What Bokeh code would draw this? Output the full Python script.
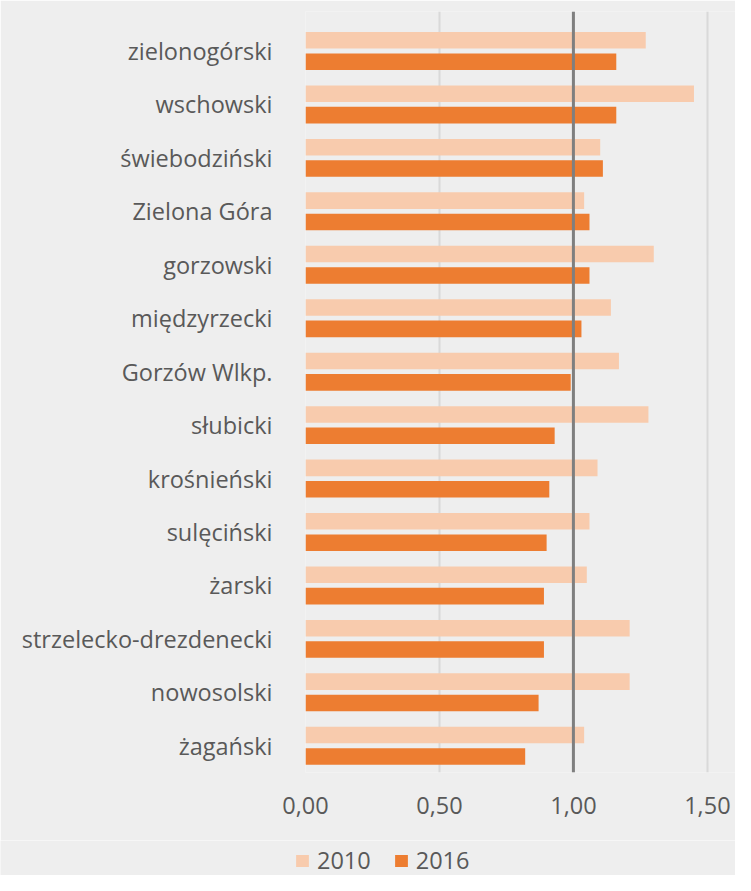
from bokeh.plotting import figure
from bokeh.models import (ColumnDataSource, Range1d, FixedTicker, Span, Legend, LegendItem)
from bokeh.transform import dodge
from bokeh.embed import file_html
from bokeh.resources import INLINE

# ---- data ----
categories = ["zielonogórski", "wschowski", "świebodziński", "Zielona Góra", "gorzowski",
              "międzyrzecki", "Gorzów Wlkp.", "słubicki", "krośnieński", "sulęciński",
              "żarski", "strzelecko-drezdenecki", "nowosolski", "żagański"]
values_2010 = [1.27, 1.45, 1.10, 1.04, 1.30, 1.14, 1.17, 1.28, 1.09, 1.06, 1.05, 1.21, 1.21, 1.04]
values_2016 = [1.16, 1.16, 1.11, 1.06, 1.06, 1.03, 0.99, 0.93, 0.91, 0.90, 0.89, 0.89, 0.87, 0.82]
series_names = ["2010", "2016"]
x_ticks = [0.0, 0.5, 1.0, 1.5]
x_tick_labels = ["0,00", "0,50", "1,00", "1,50"]
reference_value = 1.0

# ---- styles ----
FONT = "Open Sans"
FS = "23.5px"
TEXT = "#595959"
BG = "#eeeeee"
C2010 = "#f8cbad"
C2016 = "#ed7d31"

n = len(categories)
positions = list(range(n))
src = ColumnDataSource(dict(pos=positions, cat=categories, v2010=values_2010, v2016=values_2016))

p = figure(width=735, height=840, output_backend="svg", toolbar_location=None,
           x_range=Range1d(0, 1.605), y_range=Range1d(n - 0.5, -0.5 - 13 / 54.43),
           min_border_left=305, min_border_right=0, min_border_top=11, min_border_bottom=68)
p.background_fill_color = BG
p.border_fill_color = BG
p.outline_line_color = None

r1 = p.hbar(y=dodge("pos", -0.2), left=0, right="v2010", height=0.31, source=src,
            fill_color=C2010, line_color=None)
r2 = p.hbar(y=dodge("pos", 0.2), left=0, right="v2016", height=0.31, source=src,
            fill_color=C2016, line_color=None)

p.add_layout(Span(location=reference_value, dimension="height", line_color="#7f7f7f", line_width=3))

# x axis
xa = p.xaxis[0]
xa.ticker = FixedTicker(ticks=x_ticks)
xa.major_label_overrides = {t: l for t, l in zip(x_ticks, x_tick_labels)}
xa.axis_line_color = None
xa.major_tick_line_color = None
xa.minor_tick_line_color = None
xa.major_tick_out = 0
xa.major_tick_in = 0
xa.major_label_text_font = FONT
xa.major_label_text_font_size = FS
xa.major_label_text_color = TEXT
xa.major_label_standoff = 24

# y axis
ya = p.yaxis[0]
ya.ticker = FixedTicker(ticks=positions)
ya.major_label_overrides = {i: c for i, c in zip(positions, categories)}
ya.axis_line_color = None
ya.major_tick_line_color = None
ya.minor_tick_line_color = None
ya.major_tick_out = 0
ya.major_tick_in = 0
ya.major_label_text_font = FONT
ya.major_label_text_font_size = FS
ya.major_label_text_color = TEXT
ya.major_label_standoff = 33

p.xgrid.grid_line_color = "#d9d9d9"
p.xgrid.grid_line_width = 2
p.ygrid.grid_line_color = None

# ---- legend strip (same series, drawn outside its visible range so only the legend shows) ----
pl = figure(width=735, height=35, output_backend="svg", toolbar_location=None,
            x_range=Range1d(10, 11), y_range=Range1d(100, 101),
            x_axis_type=None, y_axis_type=None,
            min_border_left=0, min_border_right=0, min_border_top=0, min_border_bottom=0)
pl.background_fill_color = BG
pl.border_fill_color = BG
pl.outline_line_color = None
pl.grid.grid_line_color = None
l1 = pl.hbar(y="pos", left=0, right="v2010", height=0.31, source=src, fill_color=C2010, line_color=None)
l2 = pl.hbar(y="pos", left=0, right="v2016", height=0.31, source=src, fill_color=C2016, line_color=None)

legend = Legend(items=[LegendItem(label=series_names[0], renderers=[l1]),
                       LegendItem(label=series_names[1], renderers=[l2])],
                orientation="horizontal", location=(294, -1),
                label_text_font=FONT, label_text_font_size=FS, label_text_color=TEXT,
                glyph_width=16, glyph_height=15, label_standoff=7, spacing=22,
                padding=0, margin=0, border_line_color=None, background_fill_alpha=0)
pl.add_layout(legend, "center")

open("out.html", "w").write(file_html((p, pl), INLINE))
